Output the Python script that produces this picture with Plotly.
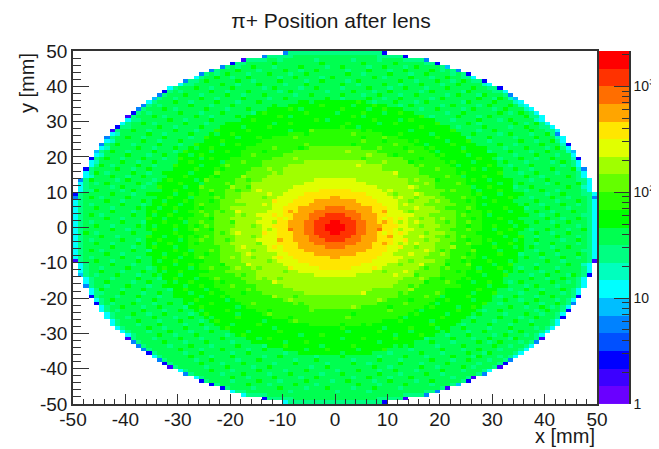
import plotly.graph_objects as go

# All values below are estimates.
TITLE = "π+ Position after lens"
X_TICKS = [-50, -40, -30, -20, -10, 0, 10, 20, 30, 40, 50]
Y_TICKS = [-50, -40, -30, -20, -10, 0, 10, 20, 30, 40, 50]
X_MINOR = [v for v in range(-50, 51, 2) if v % 10]
Y_MINOR = [v for v in range(-50, 51, 2) if v % 10]
BAND_LETTERS = "ABCDEFGHIJKLMNOPQRST"
BAND_EDGES = [1, 1.47, 2.15, 3.16, 4.64, 6.8, 10, 14.7, 21.5, 31.6, 46.4, 68, 100, 147, 215, 316, 464, 681, 1000, 1468, 2150]
BAND_COLORS = ["#6a00ff", "#3c00ff", "#0000ff", "#0050ff", "#0082ff", "#00beff", "#00ffff", "#00ffbe",
               "#00ff82", "#00ff50", "#00ff00", "#28ff00", "#64ff00", "#a0ff00", "#e1ff00", "#ffe600",
               "#ffa500", "#ff6e00", "#ff3200", "#ff0000"]
COLORBAR_TICKS = [1, 10, 100, 1000]
COLORBAR_LABELS = ["1", "10", "10<sup>2</sup>", "10<sup>3</sup>"]
COLORBAR_MINOR = [2, 3, 4, 5, 6, 7, 8, 9, 20, 30, 40, 50, 60, 70, 80, 90, 200, 300, 400, 500, 600, 700, 800, 900, 2000]

# Half widths (bins) of each nested colour region, one row per bin from y=49.5 down to y=-49.5.
NESTED_LETTERS = "IJKLMNOPQRST"
ROW_HALF_WIDTHS = [
    [10], [14, 8], [18, 13], [20, 17], [22, 20], [24, 22], [26, 24], [27, 25], [29, 27], [30, 28],
    [32, 30], [33, 31], [34, 32], [35, 33], [36, 34, 6], [37, 35, 10], [38, 36, 13], [39, 37, 15], [40, 38, 17], [40, 38, 19],
    [41, 39, 20], [42, 40, 22], [43, 41, 23, 5], [43, 41, 24, 9], [44, 42, 25, 12], [44, 42, 26, 14], [45, 43, 27, 15], [45, 43, 28, 17, 5], [46, 44, 29, 18, 8], [46, 44, 30, 19, 10],
    [47, 45, 30, 20, 12], [47, 45, 31, 21, 14, 6], [47, 45, 31, 22, 15, 9], [48, 46, 32, 23, 16, 10], [48, 46, 32, 23, 17, 12], [48, 46, 33, 24, 18, 13], [49, 47, 33, 25, 19, 14, 4], [49, 47, 34, 25, 19, 15, 6], [49, 47, 34, 26, 20, 16, 8], [49, 47, 34, 26, 21, 16, 9, 3],
    [50, 48, 35, 26, 21, 17, 10, 6], [50, 48, 35, 27, 21, 18, 11, 7, 1], [50, 48, 35, 27, 22, 18, 12, 8, 4], [50, 48, 35, 27, 22, 18, 12, 9, 5], [50, 48, 36, 27, 22, 19, 13, 10, 7, 2], [50, 48, 36, 28, 23, 19, 13, 10, 7, 4], [50, 48, 36, 28, 23, 19, 14, 10, 8, 5, 2], [50, 48, 36, 28, 23, 19, 14, 11, 8, 5, 3], [50, 48, 36, 28, 23, 19, 14, 11, 8, 6, 4, 1], [50, 48, 36, 28, 23, 19, 14, 11, 9, 6, 4, 2],
    [50, 48, 36, 28, 23, 19, 14, 11, 9, 6, 4, 2], [50, 48, 36, 28, 23, 20, 14, 11, 8, 6, 4, 1], [50, 48, 36, 28, 23, 19, 14, 11, 8, 5, 3], [50, 48, 36, 28, 23, 19, 14, 11, 8, 5, 2], [50, 48, 36, 28, 23, 19, 14, 11, 7, 4], [50, 48, 36, 27, 23, 19, 13, 10, 7, 2], [50, 48, 35, 27, 22, 19, 13, 10, 6], [50, 48, 35, 27, 22, 18, 12, 9, 4], [50, 48, 35, 27, 22, 18, 12, 8, 1], [50, 48, 35, 26, 21, 18, 11, 7],
    [49, 47, 34, 26, 21, 17, 10, 5], [49, 47, 34, 26, 20, 16, 9, 3], [49, 47, 34, 25, 20, 15, 7], [49, 47, 33, 25, 19, 15, 4], [48, 46, 33, 24, 18, 13], [48, 46, 32, 23, 17, 12], [48, 46, 32, 23, 16, 10], [47, 45, 31, 22, 15, 8], [47, 45, 31, 21, 14, 6], [47, 45, 30, 20, 12],
    [46, 44, 30, 19, 10], [46, 44, 29, 18, 8], [45, 43, 28, 17, 5], [45, 43, 27, 15], [44, 42, 26, 14], [44, 42, 25, 12], [43, 41, 24, 9], [43, 41, 23, 5], [42, 40, 22], [41, 39, 20],
    [40, 38, 19], [40, 38, 17], [39, 37, 15], [38, 36, 13], [37, 35, 10], [36, 34, 6], [35, 33], [34, 32], [33, 31], [32, 30],
    [30, 28], [29, 27], [27, 25], [26, 24], [24, 22], [22, 20], [20, 17], [18, 13], [14, 8], [10],
]
# Outer rim cell of each row: y of bin centre -> colour letter (default cyan).
LEFT_RIM = {49.5: "E", 48.5: "E", 47.5: "B", 46.5: "C", 45.5: "E", 44.5: "E", 43.5: "E", 41.5: "E", 38.5: "C", 37.5: "E", 36.5: "F",
            34.5: "E", 33.5: "E", 32.5: "C", 31.5: "B", 28.5: "C", 27.5: "B", 25.5: "E", 23.5: "E", 21.5: "F", 19.5: "C", 16.5: "C",
            13.5: "E", 9.5: "C", 8.5: "E", -9.5: "B", -13.5: "F", -16.5: "E", -19.5: "C", -21.5: "C", -31.5: "B", -32.5: "E",
            -33.5: "E", -34.5: "E", -35.5: "C", -37.5: "E", -38.5: "C", -39.5: "B", -41.5: "E", -43.5: "C", -44.5: "C", -45.5: "C", -48.5: "C"}
RIGHT_RIM = {49.5: "C", 48.5: "C", 47.5: "E", 46.5: "C", 45.5: "F", 44.5: "E", 43.5: "C", 41.5: "C", 39.5: "C", 37.5: "E", 36.5: "F",
             26.5: "E", 23.5: "C", 21.5: "F", 19.5: "C", 16.5: "E", 8.5: "E", -9.5: "B", -13.5: "C", -19.5: "C", -21.5: "E",
             -23.5: "C", -25.5: "C", -31.5: "B", -32.5: "E", -37.5: "E", -38.5: "C", -39.5: "B", -41.5: "E", -42.5: "B", -43.5: "C",
             -44.5: "F", -45.5: "B", -46.5: "E", -47.5: "E", -48.5: "B", -49.5: "C"}
# Mottled cells: lower edge y of the row -> lower edge x of the cells one band hotter / colder than their surroundings.
HOTTER = {
    46: [-12, -3, 5, 11], 45: [-16, -7, 1, 9, 15], 44: [-19, -10, -4, 6, 13, 18], 43: [-21, -13, -6, 2, 10, 17], 42: [-23, -17, -8, -1, 7, 14, 21],
    41: [-25, -19, -11, -3, 4, 12, 19, 24], 40: [-22, -15, -6, 1, 9, 16, 23], 39: [-27, -20, -12, -4, 6, 13, 21, 26], 38: [-24, -17, -9, 3, 10, 18, 25], 37: [-29, -21, -14, -5, 1, 8, 15, 23, 28],
    36: [-26, -18, -10, -2, 6, 12, 20, 27, 31], 35: [-31, -23, -15, -7, 4, 11, 17, 25, 30], 34: [-28, -20, -12, -3, 7, 14, 22, 29, 33], 33: [-33, -25, -17, -9, 1, 9, 19, 26, 32], 32: [-30, -22, -14, -6, 5, 12, 24, 31, 35],
    31: [-35, -27, -19, -11, 3, 16, 23, 29, 36], 30: [-32, -24, -16, -4, 7, 14, 27, 33], 29: [-37, -29, -21, -9, 2, 11, 19, 25, 34, 38], 28: [-34, -26, -13, 1, 16, 28, 36], 27: [-39, -31, -23, -17, -5, 6, 22, 30, 37],
    26: [-36, -28, -20, 3, 12, 26, 33, 40], 25: [-40, -33, -25, -15, -8, 9, 19, 29, 38], 24: [-37, -30, -22, 5, 15, 25, 35, 41], 23: [-42, -34, -27, -19, -6, 11, 22, 31, 39], 22: [-38, -31, -24, -12, 8, 18, 28, 36, 42],
    21: [-43, -35, -29, -21, 2, 14, 24, 33, 40], 20: [-40, -33, -26, -16, 6, 20, 30, 38, 44], 19: [-44, -37, -30, -24, -8, 12, 27, 35, 41], 18: [-41, -35, -28, -18, 9, 22, 32, 43], 17: [-45, -38, -31, -21, 4, 16, 29, 37],
    16: [-42, -36, -27, -13, 19, 26, 34, 41, 45], 15: [-46, -39, -33, -23, 11, 24, 31, 38], 14: [-43, -37, -29, -18, 21, 28, 36, 44], 13: [-47, -40, -32, -25, 15, 26, 33, 40], 12: [-44, -38, -30, -21, -16, 17, 23, 35, 42, 46],
    11: [-41, -34, -26, -20, 14, 29, 37, 44], 10: [-46, -39, -31, -24, -15, 10, 22, 31, 39], 9: [-43, -36, -28, -18, -13, 15, 27, 35, 43], 8: [-47, -40, -32, -23, 12, 18, 24, 33, 41], 7: [-44, -37, -29, -19, -12, 19, 30, 38, 46],
    6: [-41, -33, -26, -14, 13, 22, 36, 43], 5: [-46, -38, -31, -20, 15, 25, 32, 40], 4: [-43, -35, -26, -19, -9, 9, 19, 29, 38, 45], 3: [-47, -39, -32, -25, -15, -12, 14, 24, 36, 42], 2: [-44, -36, -30, -20, 12, 20, 31, 40, 46],
    1: [-41, -33, -26, -15, -9, 9, 15, 25, 38, 44], 0: [-46, -38, -31, -25, -12, 11, 19, 30, 36, 42], -1: [-43, -35, -27, -20, -9, 8, 14, 25, 33, 40, 47], -2: [-48, -39, -31, -19, -14, 12, 20, 31, 38, 44], -3: [-45, -36, -30, -25, 10, 16, 24, 35, 42],
    -4: [-41, -34, -26, -15, -11, 13, 19, 29, 38, 46], -5: [-46, -38, -32, -20, 9, 15, 25, 33, 41], -6: [-43, -35, -28, -18, -12, 12, 22, 30, 37, 44], -7: [-47, -39, -31, -24, 17, 26, 35, 42], -8: [-44, -36, -29, -17, 14, 20, 31, 39, 46],
    -9: [-41, -33, -26, -20, -11, 12, 24, 36, 43], -10: [-46, -38, -31, -22, 11, 18, 29, 40], -11: [-43, -35, -28, -17, 16, 25, 33, 44], -12: [-40, -33, -24, -19, -9, 7, 21, 31, 38], -13: [-45, -37, -30, -21, 13, 27, 35, 42],
    -14: [-42, -35, -26, 11, 19, 32, 40, 45], -15: [-38, -31, -23, -15, 16, 25, 37, 43], -16: [-44, -36, -28, -12, 21, 29, 35, 41], -17: [-40, -33, -26, -20, 10, 23, 32, 38], -18: [-45, -37, -29, -17, 14, 27, 36, 43],
    -19: [-41, -34, -24, 5, 19, 30, 39], -20: [-38, -31, -22, -12, 17, 25, 34, 41], -21: [-43, -35, -27, -9, 8, 21, 32, 38], -22: [-39, -32, -24, -16, 13, 28, 36, 42], -23: [-41, -34, -26, 3, 18, 26, 33, 39],
    -24: [-37, -30, -21, -5, 10, 23, 31, 40], -25: [-39, -33, -25, -13, 15, 27, 36], -26: [-35, -28, -19, 2, 20, 31, 38], -27: [-38, -30, -23, -8, 12, 26, 34], -28: [-34, -26, -15, 6, 18, 29, 37],
    -29: [-36, -29, -21, 1, 14, 24, 33], -30: [-32, -24, -11, 8, 21, 28, 35], -31: [-34, -27, -18, -3, 16, 25, 32], -32: [-30, -22, -13, 5, 11, 22, 29, 34], -33: [-33, -25, -16, -6, 18, 27, 31],
    -34: [-28, -19, -10, 3, 14, 24, 30], -35: [-30, -22, -14, -2, 9, 20, 27], -36: [-26, -17, -7, 6, 16, 25, 29], -37: [-28, -20, -11, 1, 13, 22, 27], -38: [-24, -15, -4, 8, 18, 25],
    -39: [-26, -18, -8, 3, 12, 21], -40: [-21, -13, -2, 7, 16, 24], -41: [-24, -15, -6, 4, 11, 20], -42: [-18, -9, 1, 8, 17], -43: [-20, -12, -4, 6, 14], -44: [-15, -6, 2, 10, 18], -45: [-17, -8, 4, 13], -46: [-11, -2, 7],
}
COLDER = {
    47: [-11, -4, 3, 8], 45: [-19, -12, -2, 6, 13], 44: [-15, -7, 2, 10, 20], 43: [-23, -17, -9, 5, 14, 22], 42: [-20, -11, -3, 9, 18, 24], 41: [-27, -16, -6, 2, 15, 22, 26],
    40: [-28, -19, -10, 4, 12, 20, 28], 39: [-24, -14, -7, 1, 10, 17, 29], 38: [-30, -21, -11, -2, 7, 16, 24, 30], 37: [-26, -18, -8, 5, 12, 21, 27], 36: [-31, -23, -13, 1, 9, 18, 30, 33],
    35: [-28, -19, -5, 7, 15, 24, 34], 34: [-34, -24, -10, 3, 12, 20, 27, 35], 33: [-31, -21, -7, 6, 16, 24, 30, 36], 32: [-36, -26, -16, 0, 9, 21, 33], 31: [-33, -24, -9, 5, 18, 27, 37],
    30: [-38, -29, -19, -2, 12, 22, 31, 38], 29: [-35, -25, -12, 8, 27, 36], 28: [-40, -31, -18, 4, 23, 33, 39], 27: [-36, -27, -9, 14, 27, 40], 26: [-42, -33, -23, -6, 18, 31, 37],
    25: [-37, -28, -19, 5, 25, 34, 42], 24: [-43, -34, -26, 9, 21, 29, 38], 23: [-39, -30, -22, 3, 17, 34, 43], 22: [-44, -35, -27, -7, 13, 24, 32, 40], 21: [-40, -31, -24, -14, 19, 29, 37, 44],
    20: [-45, -36, -28, -19, 11, 25, 34, 42], 19: [-41, -33, -26, 5, 16, 31, 38, 45], 18: [-46, -38, -31, -22, 14, 26, 36, 41], 17: [-43, -35, -26, -15, 23, 33, 43], 16: [-39, -32, -22, 9, 28, 37, 46],
    15: [-44, -36, -28, -11, 16, 35, 42], 14: [-47, -40, -33, -23, 12, 24, 32, 39], 13: [-42, -35, -27, -17, 19, 29, 37, 46], 12: [-46, -36, -26, 14, 31, 40], 11: [-43, -37, -29, -17, 19, 26, 34, 47],
    10: [-47, -41, -34, -19, 15, 27, 36, 42], 9: [-39, -31, -24, 11, 20, 31, 40, 47], 8: [-45, -35, -28, -14, 15, 28, 37, 44], 7: [-41, -33, -24, 14, 25, 34, 42], 6: [-47, -37, -30, -18, 17, 28, 39, 46],
    5: [-43, -34, -26, -13, 12, 21, 36, 44], 4: [-39, -31, -22, 14, 25, 33, 41], 3: [-45, -35, -28, -18, 18, 29, 39, 47], 2: [-41, -33, -24, -10, 9, 16, 26, 35, 43], 1: [-47, -37, -29, -20, -12, 12, 21, 33, 41],
    0: [-43, -35, -27, -16, 16, 25, 34, 46], -1: [-40, -31, -24, -13, 12, 22, 30, 37, 44], -2: [-46, -36, -28, -22, 9, 17, 27, 35, 41], -3: [-42, -33, -27, -16, 13, 21, 32, 38, 46], -4: [-47, -38, -30, -21, 17, 25, 34, 43],
    -5: [-43, -35, -27, -15, 12, 22, 30, 38, 46], -6: [-39, -31, -23, 15, 26, 34, 41], -7: [-45, -36, -28, -16, 12, 20, 31, 38, 47], -8: [-41, -33, -25, -12, 11, 25, 35, 42], -9: [-47, -38, -30, -16, 17, 28, 39, 46],
    -10: [-43, -34, -26, -13, 14, 24, 33, 43], -11: [-39, -31, -22, 12, 21, 30, 38, 47], -12: [-45, -36, -28, -15, 17, 27, 35, 42], -13: [-41, -33, -25, -10, 9, 23, 32, 39], -14: [-46, -38, -30, -18, 15, 28, 37, 44],
    -15: [-43, -34, -27, -11, 20, 32, 40], -16: [-39, -31, -22, 17, 26, 33, 44], -17: [-44, -36, -29, -16, 14, 29, 36, 42], -18: [-41, -32, -25, 7, 21, 33, 39], -19: [-45, -37, -28, -18, 12, 26, 35, 43],
    -20: [-42, -34, -26, -8, 20, 31, 38], -21: [-38, -30, -21, 14, 26, 35, 42], -22: [-43, -35, -28, -7, 19, 31, 39], -23: [-37, -29, -19, 10, 23, 36, 41], -24: [-42, -33, -26, -13, 16, 28, 38],
    -25: [-36, -28, -19, 3, 21, 32, 39], -26: [-40, -31, -24, -9, 13, 26, 35], -27: [-34, -26, -14, 18, 30, 37], -28: [-38, -29, -20, 1, 24, 33], -29: [-33, -25, -12, 9, 19, 29, 38],
    -30: [-36, -28, -17, 2, 14, 25, 33], -31: [-31, -21, -7, 11, 21, 30, 36], -32: [-35, -26, -15, 1, 17, 26, 33], -33: [-29, -20, -10, 8, 22, 29, 35], -34: [-32, -24, -14, -3, 11, 19, 33],
    -35: [-26, -17, -6, 4, 14, 24, 31], -36: [-29, -20, -10, 1, 10, 20, 28], -37: [-24, -14, -4, 8, 17, 26, 31], -38: [-27, -19, -8, 3, 12, 22, 29], -39: [-22, -12, -2, 6, 16, 27],
    -40: [-25, -16, -5, 10, 19, 26], -41: [-20, -10, 0, 8, 15, 24], -42: [-22, -13, -3, 12, 20], -43: [-17, -7, 3, 10, 22], -44: [-20, -11, -1, 7, 15], -45: [-13, -4, 8, 18], -46: [-16, -6, 3, 12], -47: [-9, 0, 6],
}

x_centres = [i - 49.5 for i in range(100)]
y_centres = [49.5 - i for i in range(100)]
band_of = {letter: i for i, letter in enumerate(BAND_LETTERS)}

n = len(BAND_COLORS)
z = []
for y, widths in zip(y_centres, ROW_HALF_WIDTHS):
    row = [None] * 100
    for letter, w in zip(NESTED_LETTERS, widths):
        for c in range(50 - w, 50 + w):
            row[c] = band_of[letter]
    w = widths[0]
    y_floor = int(y - 0.5)
    for table, shift in ((HOTTER, 1), (COLDER, -1)):
        for x in table.get(y_floor, []):
            c = x + 50
            if 50 - w < c < 49 + w:
                row[c] += shift
    row[50 - w] = band_of[LEFT_RIM.get(y, "G")]
    row[49 + w] = band_of[RIGHT_RIM.get(y, "G")]
    z.append(row)

scale_linear = []
for i, c in enumerate(BAND_COLORS):
    scale_linear += [[i / n, c], [(i + 1) / n, c]]

z_band = [[None if v is None else v + 0.5 for v in row] for row in z]
bar_z = [[i + 0.5] for i in range(n)]

fig = go.Figure()
fig.add_trace(go.Heatmap(x=x_centres, y=y_centres, z=z_band, zmin=0, zmax=n, colorscale=scale_linear,
                         showscale=False, hoverongaps=False))
fig.add_trace(go.Heatmap(x=[0, 1], y=BAND_EDGES, z=bar_z, zmin=0, zmax=n, colorscale=scale_linear,
                         showscale=False, xaxis="x2", yaxis="y2"))

ink = "#333333"
face = "Liberation Sans, Arial, sans-serif"
tick_font = dict(family=face, size=19, color="#1a1a1a")
fig.update_layout(
    width=651, height=441,
    margin=dict(l=65, r=30, t=43, b=45, autoexpand=False),
    paper_bgcolor="white", plot_bgcolor="white", showlegend=False,
    title=dict(text=TITLE, x=323 / 651, xref="container", xanchor="center", y=1 - 13 / 441, yanchor="middle",
               font=dict(family=face, size=21, color="#1a1a1a")),
    xaxis=dict(domain=[0, 524 / 556], range=[-50, 50], tickmode="array", tickvals=X_TICKS,
               ticktext=[str(v) for v in X_TICKS], ticks="inside", ticklen=10, tickwidth=1, tickcolor=ink,
               tickfont=tick_font, ticklabelstandoff=-3, showgrid=False, zeroline=False, showline=True, linecolor=ink, linewidth=1.5, mirror=True,
               minor=dict(tickmode="array", tickvals=X_MINOR, ticks="inside", ticklen=5, tickcolor=ink, tickwidth=1, showgrid=False)),
    yaxis=dict(range=[-50, 50], tickmode="array", tickvals=Y_TICKS, ticktext=[str(v) for v in Y_TICKS],
               ticks="inside", ticklen=16, tickwidth=1, tickcolor=ink, tickfont=tick_font, showgrid=False, zeroline=False,
               showline=True, linecolor=ink, linewidth=1.5, mirror=True,
               minor=dict(tickmode="array", tickvals=Y_MINOR, ticks="inside", ticklen=8, tickcolor=ink, tickwidth=1, showgrid=False)),
    xaxis2=dict(domain=[526 / 556, 1], range=[0, 1], showticklabels=False, ticks="", showgrid=False, zeroline=False, showline=False),
    yaxis2=dict(type="log", anchor="x2", side="right", range=[0, 3.332], tickmode="array", tickvals=COLORBAR_TICKS,
                ticktext=COLORBAR_LABELS, ticks="inside", ticklen=15, tickcolor=ink, tickwidth=1,
                tickfont=dict(family=face, size=14, color="#1a1a1a"),
                showgrid=False, zeroline=False, showline=True, linecolor=ink, linewidth=1.5,
                minor=dict(tickmode="array", tickvals=COLORBAR_MINOR, ticks="inside", ticklen=7, tickcolor=ink, tickwidth=1, showgrid=False)),
    annotations=[
        dict(text="x [mm]", xref="paper", yref="paper", x=524 / 556, y=-32 / 353, xanchor="right", yanchor="middle", showarrow=False,
             font=dict(family=face, size=20, color="#1a1a1a")),
        dict(text="y [mm]", xref="paper", yref="paper", x=-46 / 556, y=1, xanchor="center", yanchor="top", textangle=-90, showarrow=False,
             font=dict(family=face, size=20, color="#1a1a1a")),
    ],
)
fig.write_html("out.html")
